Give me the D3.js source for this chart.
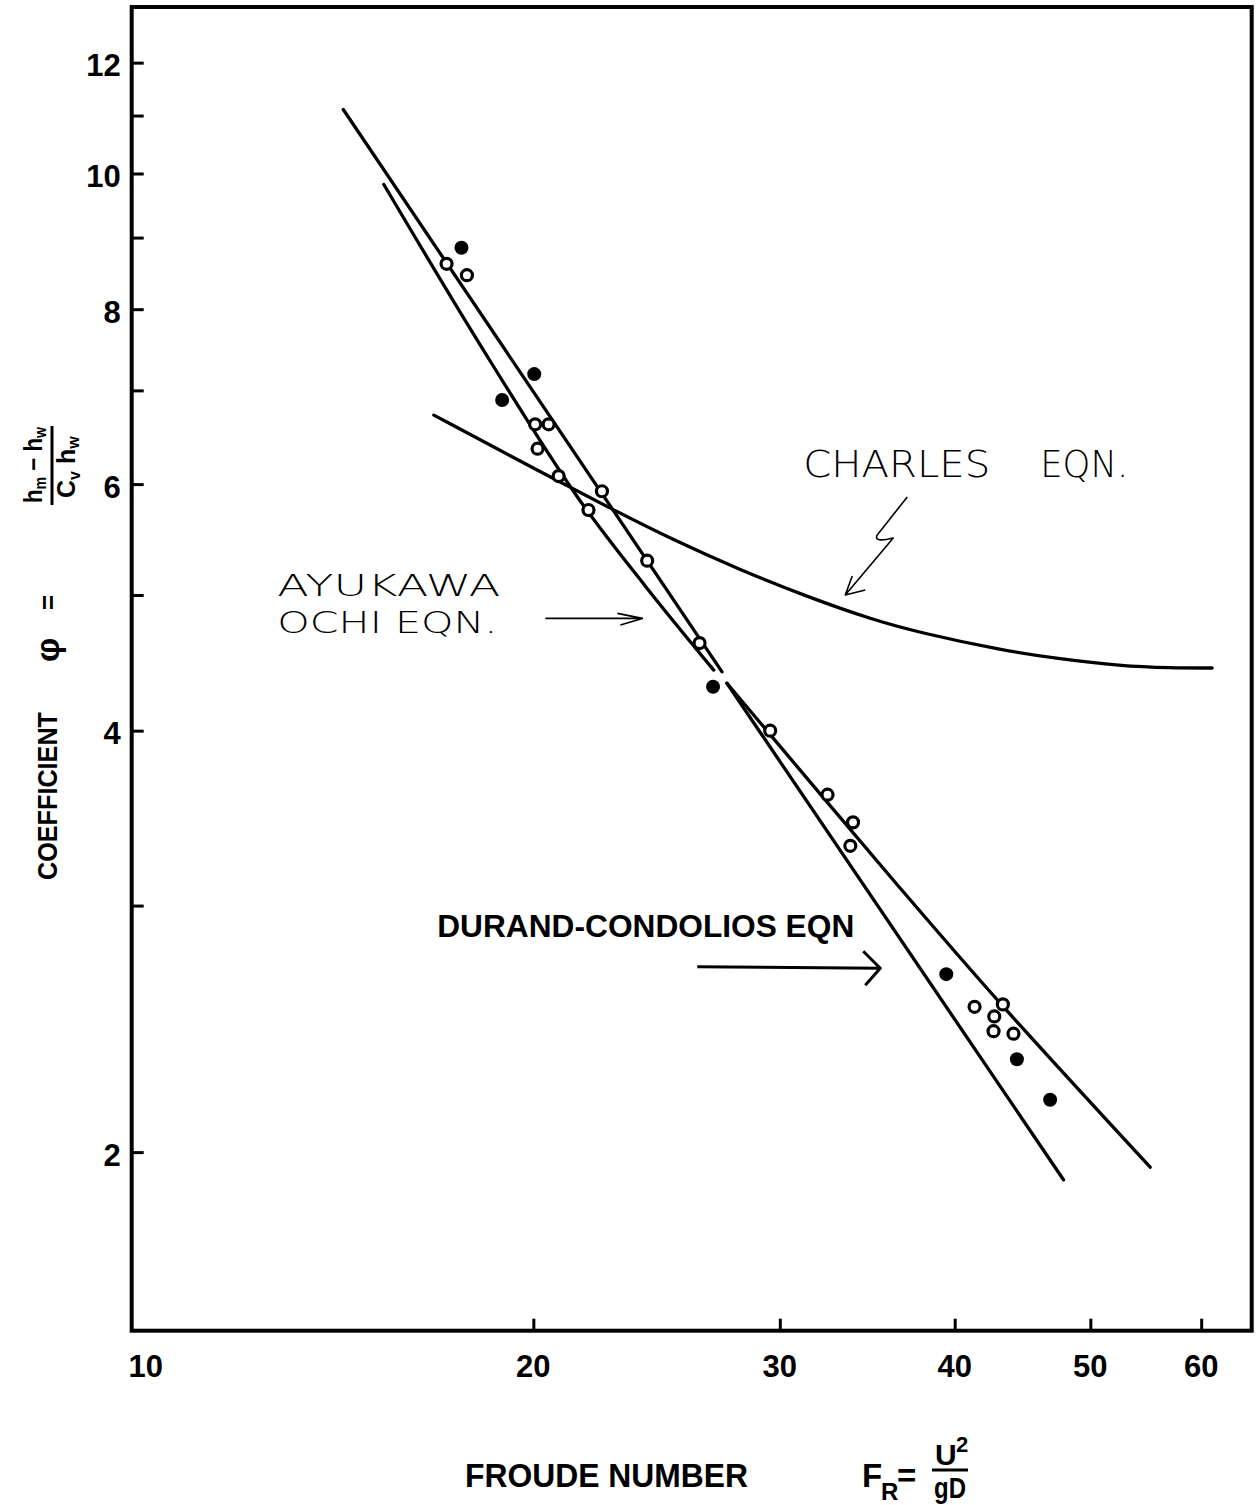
<!DOCTYPE html>
<html><head><meta charset="utf-8">
<script src="https://cdn.jsdelivr.net/npm/d3@7/dist/d3.min.js"></script>
<style>body{margin:0;background:#fff}</style>
</head><body>
<svg id="chart" width="1257" height="1505"></svg>
<script>
// ---------- data ----------
const xDomain = [10.33, 65.2];
const yDomain = [1.491, 13.15];
const xTicks = [20, 30, 40, 50, 60];
const xTickLabels = [10, 20, 30, 40, 50, 60];
const yTicks = [2, 3, 4, 5, 6, 7, 8, 9, 10, 11, 12];
const yTickLabels = [2, 4, 6, 8, 10, 12];

const filledFr  = [17.77, 19.00, 20.03, 26.88, 39.45, 44.31, 46.80];
const filledPhi = [8.85, 6.89, 7.19, 4.30, 2.68, 2.33, 2.18];

const openFr  = [17.34, 17.93, 20.06, 20.51, 20.14, 20.85, 22.39, 21.90, 24.12, 26.29, 29.53, 32.45, 33.84, 33.69, 41.33, 43.30, 42.69, 42.64, 44.06];
const openPhi = [8.62, 8.46, 6.62, 6.62, 6.36, 6.08, 5.93, 5.75, 5.29, 4.62, 4.00, 3.60, 3.44, 3.31, 2.54, 2.55, 2.50, 2.44, 2.43];

const durandFr1  = [14.63, 27.28];
const durandPhi1 = [11.11, 4.406];
const durandFr2  = [27.50, 47.84];
const durandPhi2 = [4.324, 1.911];

const ayukawaFr1  = [15.64, 18.33, 21.48, 24.04, 26.91];
const ayukawaPhi1 = [9.821, 7.541, 5.884, 5.075, 4.419];
const ayukawaFr2  = [27.50, 36.57, 43.11, 55.17];
const ayukawaPhi2 = [4.324, 3.087, 2.555, 1.951];

const charlesFr  = [16.98, 20.23, 22.82, 25.19, 28.11, 31.37, 35.00, 37.80, 43.11, 47.58, 52.52, 57.02, 61.09];
const charlesPhi = [6.721, 6.123, 5.750, 5.472, 5.210, 4.986, 4.798, 4.699, 4.567, 4.500, 4.449, 4.434, 4.434];

// annotation anchors (data units)
const ayukawaArrowTip = [23.93, 4.811];
const charlesArrowTip = [33.41, 5.000];
const durandArrowTip  = [35.39, 2.706];

// ---------- drawing ----------
const svg = d3.select("#chart");
const x = d3.scaleLog().domain(xDomain).range([131.7, 1251.7]);
const y = d3.scaleLog().domain(yDomain).range([1330.7, 7]);
const boldFont = "'Liberation Sans', Arial, sans-serif";
const thinFont = "'DejaVu Sans', sans-serif";

// frame
svg.append("rect")
  .attr("x", x(xDomain[0])).attr("y", y(yDomain[1]))
  .attr("width", x(xDomain[1]) - x(xDomain[0]))
  .attr("height", y(yDomain[0]) - y(yDomain[1]))
  .attr("fill", "none").attr("stroke", "#000").attr("stroke-width", 4);

// y axis
const yAxis = d3.axisLeft(y).tickValues(yTicks).tickSize(-12).tickPadding(11)
  .tickFormat(d => yTickLabels.includes(d) ? d : "");
const gy = svg.append("g").attr("transform", `translate(${x(xDomain[0])},0)`).call(yAxis);
gy.select(".domain").remove();
gy.selectAll(".tick line").attr("stroke", "#000").attr("stroke-width", 3);
gy.selectAll(".tick text").attr("dy", null).attr("y", 13)
  .attr("font-family", boldFont).attr("font-weight", "bold").attr("font-size", 31).attr("fill", "#000");

// x axis
const xAxis = d3.axisBottom(x).tickValues(xTicks).tickSize(-12).tickFormat("");
const gx = svg.append("g").attr("transform", `translate(0,${y(yDomain[0])})`).call(xAxis);
gx.select(".domain").remove();
gx.selectAll(".tick line").attr("stroke", "#000").attr("stroke-width", 3);
svg.append("g").selectAll("text").data(xTickLabels).join("text")
  .attr("x", d => Math.max(x(d), x(xDomain[0]) + 14))
  .attr("y", y(yDomain[0]) + 46)
  .attr("text-anchor", "middle")
  .attr("font-family", boldFont).attr("font-weight", "bold").attr("font-size", 31)
  .text(d => d);

// lines
const line = d3.line().x(d => x(d[0])).y(d => y(d[1]));
const curve = d3.line().x(d => x(d[0])).y(d => y(d[1])).curve(d3.curveCatmullRom.alpha(0.5));
const smooth = d3.line().x(d => x(d[0])).y(d => y(d[1])).curve(d3.curveBasis);
function pairs(a, b) { return a.map((v, i) => [v, b[i]]); }

const lineStyle = sel => sel.attr("fill", "none").attr("stroke", "#000").attr("stroke-width", 3.3).attr("stroke-linecap", "round");
svg.append("path").datum(pairs(durandFr1, durandPhi1)).attr("d", line).call(lineStyle);
svg.append("path").datum(pairs(durandFr2, durandPhi2)).attr("d", line).call(lineStyle);
svg.append("path").datum(pairs(ayukawaFr1, ayukawaPhi1)).attr("d", curve).call(lineStyle);
svg.append("path").datum(pairs(ayukawaFr2, ayukawaPhi2)).attr("d", curve).call(lineStyle);
svg.append("path").datum(pairs(charlesFr, charlesPhi)).attr("d", smooth).call(lineStyle);

// points
svg.append("g").selectAll("circle").data(pairs(openFr, openPhi)).join("circle")
  .attr("cx", d => x(d[0])).attr("cy", d => y(d[1])).attr("r", 5.5)
  .attr("fill", "#fff").attr("stroke", "#000").attr("stroke-width", 3.2);
svg.append("g").selectAll("circle").data(pairs(filledFr, filledPhi)).join("circle")
  .attr("cx", d => x(d[0])).attr("cy", d => y(d[1])).attr("r", 7)
  .attr("fill", "#000");

// annotations
function tip(p) { return [x(p[0]), y(p[1])]; }
const thinLine = sel => sel.attr("fill", "none").attr("stroke", "#000").attr("stroke-width", 1.6).attr("stroke-linejoin", "round");

// Ayukawa - Ochi
{
  const [tx, ty] = tip(ayukawaArrowTip);
  svg.append("path").attr("d", `M${tx-97},${ty} L${tx},${ty} M${tx-25},${ty-5} L${tx},${ty} L${tx-22},${ty+6.5}`).call(thinLine);
  svg.append("text").attr("x", tx - 365).attr("y", ty - 22)
    .attr("font-family", thinFont).attr("font-weight", 200).attr("font-size", 31)
    .attr("textLength", 223).attr("lengthAdjust", "spacingAndGlyphs").text("AYUKAWA");
  svg.append("text").attr("x", tx - 365).attr("y", ty + 15)
    .attr("font-family", thinFont).attr("font-weight", 200).attr("font-size", 31)
    .attr("textLength", 220).attr("lengthAdjust", "spacingAndGlyphs").text("OCHI EQN.");
}
// Charles
{
  const [tx, ty] = tip(charlesArrowTip);
  svg.append("path").attr("d", `M${tx+62},${ty-98} L${tx+32},${ty-60} Q${tx+28},${ty-52} ${tx+48},${ty-57} L${tx},${ty} M${tx+7},${ty-19} L${tx},${ty} L${tx+20},${ty-5}`).call(thinLine);
  svg.append("text").attr("x", tx - 42).attr("y", ty - 118)
    .attr("font-family", thinFont).attr("font-weight", 200).attr("font-size", 38)
    .attr("textLength", 187).attr("lengthAdjust", "spacingAndGlyphs").text("CHARLES");
  svg.append("text").attr("x", tx + 195).attr("y", ty - 118)
    .attr("font-family", thinFont).attr("font-weight", 200).attr("font-size", 38)
    .attr("textLength", 88).attr("lengthAdjust", "spacingAndGlyphs").text("EQN.");
}
// Durand - Condolios
{
  const [tx, ty] = tip(durandArrowTip);
  svg.append("path").attr("d", `M${tx-183},${ty-1.5} L${tx},${ty} M${tx-17},${ty-17} L${tx},${ty} L${tx-15},${ty+17}`)
    .attr("fill", "none").attr("stroke", "#000").attr("stroke-width", 3).attr("stroke-linejoin", "round");
  svg.append("text").attr("x", tx - 443).attr("y", ty - 31)
    .attr("font-family", boldFont).attr("font-weight", "bold").attr("font-size", 32)
    .attr("textLength", 417).attr("lengthAdjust", "spacingAndGlyphs").text("DURAND-CONDOLIOS EQN");
}

// x axis title
{
  const g = svg.append("g").attr("font-family", boldFont).attr("font-weight", "bold");
  g.append("text").attr("x", 465).attr("y", 1487).attr("font-size", 33)
    .attr("textLength", 283).attr("lengthAdjust", "spacingAndGlyphs").text("FROUDE NUMBER");
  g.append("text").attr("x", 862).attr("y", 1487).attr("font-size", 33).text("F");
  g.append("text").attr("x", 881).attr("y", 1500).attr("font-size", 24).text("R");
  g.append("text").attr("x", 897).attr("y", 1487).attr("font-size", 33).text("=");
  g.append("text").attr("x", 935).attr("y", 1465).attr("font-size", 30).text("U");
  g.append("text").attr("x", 956).attr("y", 1452).attr("font-size", 22).text("2");
  g.append("line").attr("x1", 932).attr("x2", 968).attr("y1", 1470).attr("y2", 1470).attr("stroke", "#000").attr("stroke-width", 3);
  g.append("text").attr("x", 934).attr("y", 1498).attr("font-size", 29)
    .attr("textLength", 32).attr("lengthAdjust", "spacingAndGlyphs").text("gD");
}

// y axis title (rotated)
{
  const g = svg.append("g").attr("transform", "translate(57,880) rotate(-90)")
    .attr("font-family", boldFont).attr("font-weight", "bold");
  g.append("text").attr("x", 0).attr("y", 0).attr("font-size", 28)
    .attr("textLength", 168).attr("lengthAdjust", "spacingAndGlyphs").text("COEFFICIENT");
  g.append("text").attr("x", 218).attr("y", 2).attr("font-size", 34).text("φ");
  g.append("text").attr("x", 270).attr("y", 0).attr("font-size", 26).text("=");
  g.append("line").attr("x1", 375).attr("x2", 454).attr("y1", -5).attr("y2", -5).attr("stroke", "#000").attr("stroke-width", 3);
  const num = g.append("text").attr("x", 377).attr("y", -15).attr("font-size", 25)
    .attr("textLength", 76).attr("lengthAdjust", "spacingAndGlyphs");
  num.append("tspan").text("h");
  num.append("tspan").attr("font-size", 16).attr("dy", 4).text("m");
  num.append("tspan").attr("dy", -4).text(" − h");
  num.append("tspan").attr("font-size", 16).attr("dy", 4).text("w");
  const den = g.append("text").attr("x", 382).attr("y", 18).attr("font-size", 25);
  den.append("tspan").text("C");
  den.append("tspan").attr("font-size", 16).attr("dy", 5).text("v");
  den.append("tspan").attr("dy", -5).text(" h");
  den.append("tspan").attr("font-size", 16).attr("dy", 4).text("w");
}
</script>
</body></html>
